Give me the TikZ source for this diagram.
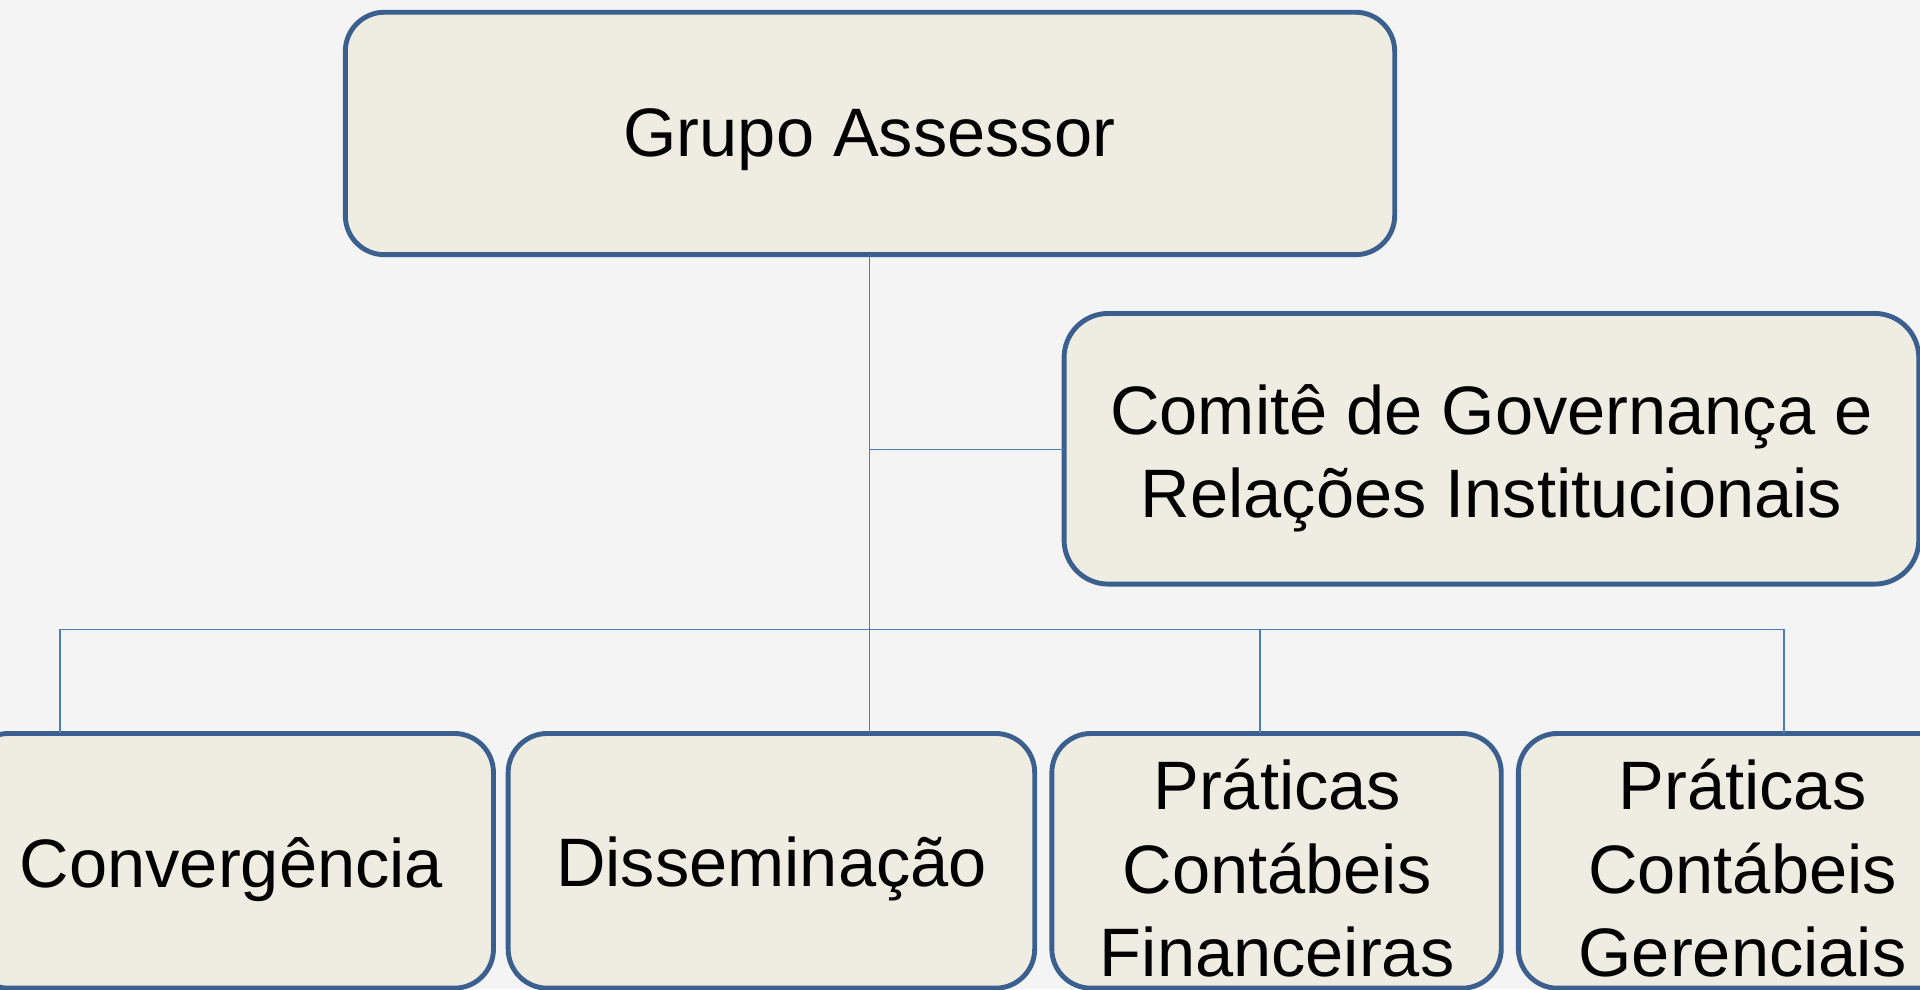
\documentclass[tikz,border=0pt]{standalone}
\usepackage{fontspec}
\setmainfont{Liberation Sans}
\definecolor{bgc}{HTML}{F4F4F4}
\definecolor{boxfill}{HTML}{EFECE2}
\definecolor{boxline}{HTML}{3B5F8F}
\definecolor{conn}{HTML}{4A7EBB}
\begin{document}
\begin{tikzpicture}[x=0.5pt,y=-0.5pt,
  orgbox/.style={draw=boxline,fill=boxfill,line width=2pt,rounded corners=16pt,inner sep=0pt},
  lbl/.style={font=\fontsize{28}{34}\selectfont,align=center,text=black,inner sep=0pt},
  link/.style={draw=conn,line width=0.6pt}]
\useasboundingbox[fill=bgc] (0,0) rectangle (1568,808);
\begin{scope}
\clip (0,0) rectangle (1568,808);
% boxes
\draw[orgbox] (282,10) rectangle (1139,208);
\draw[orgbox,rounded corners=18pt] (869,256) rectangle (1567,477);
\draw[orgbox] (-25,599) rectangle (403,807);
\draw[orgbox] (415,599) rectangle (845,807);
\draw[orgbox] (859,599) rectangle (1226,807);
\draw[orgbox] (1240,599) rectangle (1606,807);
\end{scope}
% named anchors
\coordinate (top) at (710,208);
\coordinate (side) at (710,367);
\coordinate (cgl) at (869,367);
\coordinate (b1) at (49,599);
\coordinate (b2) at (710,599);
\coordinate (b3) at (1029,599);
\coordinate (b4) at (1457,599);
\coordinate (h1) at (49,514);
\coordinate (h3) at (1029,514);
\coordinate (h4) at (1457,514);
% connectors
\draw[link] (top) -- (b2);
\draw[link] (side) -- (cgl);
\draw[link] (h1) -- (h4);
\draw[link] (h1) -- (b1);
\draw[link] (h3) -- (b3);
\draw[link] (h4) -- (b4);
% labels
\node[lbl] (ga) at (710,114) {Grupo Assessor};
\node[lbl] (cg) at (1218,374) {Comitê de Governança e\\Relações Institucionais};
\node[lbl] (cv) at (189,710) {Convergência};
\node[lbl] (ds) at (630,710) {Disseminação};
\node[lbl] (pf) at (1043,709) {Práticas\\Contábeis\\Financeiras};
\node[lbl] (pg) at (1423,709) {Práticas\\Contábeis\\Gerenciais};
\end{tikzpicture}
\end{document}
